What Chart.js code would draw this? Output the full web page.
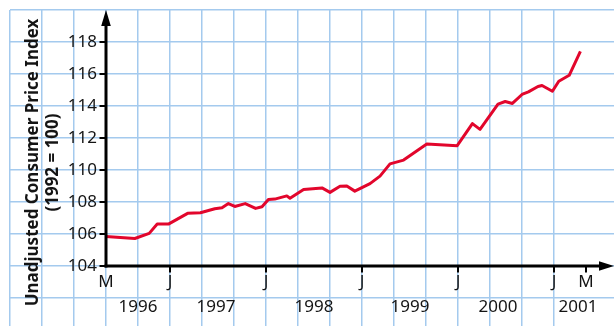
<!DOCTYPE html>
<html>
<head>
<meta charset="utf-8">
<script src="https://cdn.jsdelivr.net/npm/chart.js@4/dist/chart.umd.min.js"></script>
<style>
  html, body { margin: 0; padding: 0; background: #ffffff; }
  #wrap { width: 614px; height: 326px; position: relative; }
</style>
</head>
<body>
<div id="wrap"><canvas id="cpi" width="614" height="326"></canvas></div>
<script>
// Time is counted in months from May 1996 (0) to May 2001 (60).
const monthIndex = [
  0, 3.6, 5.4, 6.4, 7.8, 10.2, 11.8, 13.6, 14.5, 15.3, 16.1, 17.4, 18.7, 19.5,
  20.3, 21.1, 22.6, 23.0, 24.7, 27.0, 28.0, 29.25, 30.1, 31.1, 33.0, 34.25, 35.5,
  37.2, 40.1, 43.9, 45.8, 46.75, 49.0, 49.9, 50.8, 52.0, 52.8, 54.0, 54.5, 55.8,
  56.6, 57.9, 59.3
];
const cpiValues = [
  105.85, 105.72, 106.04, 106.62, 106.62, 107.29, 107.33, 107.58, 107.64, 107.9,
  107.72, 107.9, 107.6, 107.7, 108.15, 108.18, 108.38, 108.23, 108.78, 108.88,
  108.6, 108.98, 109.0, 108.68, 109.15, 109.62, 110.38, 110.62, 111.62, 111.52,
  112.9, 112.54, 114.12, 114.28, 114.16, 114.72, 114.88, 115.22, 115.28, 114.92,
  115.55, 115.92, 117.42
];

const yTickLabels = [104, 106, 108, 110, 112, 114, 116, 118];
const monthTickLabels = ['M', 'J', 'J', 'J', 'J', 'J', 'M'];
const monthTickPositions = [0, 8, 20, 32, 44, 56, 60];
const yearLabels = ['1996', '1997', '1998', '1999', '2000', '2001'];
const yearLabelPositions = [4, 13.75, 26, 38, 49, 59];

const titleLine1 = 'Unadjusted Consumer Price Index';
const titleLine2 = '(1992 = 100)';

const GRID_BLUE = '#a4caee';
const INK = '#141414';
const LABEL_FONT = '17px "Noto Sans", "DejaVu Sans", sans-serif';
const TITLE_FONT = 'bold 17px "Noto Sans", "DejaVu Sans", sans-serif';

// Keep grid lines on whole steps only (drop the extra min/max ticks).
function keepSteps(step) {
  return scale => {
    scale.ticks = scale.ticks.filter(t => Math.abs(t.value / step - Math.round(t.value / step)) < 1e-6);
  };
}

// Black axes with arrowheads, tick marks and all axis text.
const axesPlugin = {
  id: 'cpiAxes',
  afterDatasetsDraw(chart) {
    const { ctx, chartArea } = chart;
    const xs = chart.scales.x, ys = chart.scales.y;
    const x0 = xs.getPixelForValue(0);
    const y0 = ys.getPixelForValue(104);
    const yTop = ys.getPixelForValue(120);
    const xEnd = chartArea.right;

    ctx.save();
    ctx.strokeStyle = '#000';
    ctx.fillStyle = '#000';
    ctx.lineWidth = 3;
    ctx.lineCap = 'butt';

    // vertical axis
    ctx.beginPath();
    ctx.moveTo(x0, y0 + 1.5);
    ctx.lineTo(x0, yTop + 12);
    ctx.stroke();
    ctx.beginPath();
    ctx.moveTo(x0, yTop);
    ctx.lineTo(x0 - 4.8, yTop + 16);
    ctx.lineTo(x0 + 4.8, yTop + 16);
    ctx.closePath();
    ctx.fill();

    // horizontal axis
    ctx.beginPath();
    ctx.moveTo(x0 - 1.5, y0);
    ctx.lineTo(xEnd - 12, y0);
    ctx.stroke();
    ctx.beginPath();
    ctx.moveTo(xEnd, y0);
    ctx.lineTo(xEnd - 15, y0 - 4.8);
    ctx.lineTo(xEnd - 15, y0 + 4.8);
    ctx.closePath();
    ctx.fill();

    // tick marks
    ctx.lineWidth = 2;
    yTickLabels.forEach(v => {
      const py = ys.getPixelForValue(v);
      ctx.beginPath();
      ctx.moveTo(x0 - 6.5, py);
      ctx.lineTo(x0, py);
      ctx.stroke();
    });
    monthTickPositions.forEach(m => {
      if (m === 0) return;
      const px = xs.getPixelForValue(m);
      ctx.beginPath();
      ctx.moveTo(px, y0);
      ctx.lineTo(px, y0 + 6.5);
      ctx.stroke();
    });

    // tick labels
    ctx.fillStyle = INK;
    ctx.font = LABEL_FONT;
    ctx.textAlign = 'right';
    ctx.textBaseline = 'middle';
    yTickLabels.forEach(v => {
      ctx.fillText(String(v), x0 - 9, ys.getPixelForValue(v) + 0.5);
    });
    ctx.textAlign = 'center';
    ctx.textBaseline = 'alphabetic';
    monthTickLabels.forEach((t, i) => {
      ctx.fillText(t, xs.getPixelForValue(monthTickPositions[i]), y0 + 21);
    });
    yearLabels.forEach((t, i) => {
      ctx.fillText(t, xs.getPixelForValue(yearLabelPositions[i]), y0 + 46);
    });

    // rotated axis title
    ctx.font = TITLE_FONT;
    const midY = 162.5;
    ctx.save();
    ctx.translate(38, midY);
    ctx.rotate(-Math.PI / 2);
    ctx.fillText(titleLine1, 0, 0);
    ctx.restore();
    ctx.save();
    ctx.translate(58, midY);
    ctx.rotate(-Math.PI / 2);
    ctx.fillText(titleLine2, 0, 0);
    ctx.restore();

    ctx.restore();
  }
};

new Chart(document.getElementById('cpi'), {
  type: 'scatter',
  data: {
    datasets: [{
      data: monthIndex.map((m, i) => ({ x: m, y: cpiValues[i] })),
      showLine: true,
      borderColor: '#e2062c',
      borderWidth: 3,
      borderJoinStyle: 'round',
      borderCapStyle: 'butt',
      pointRadius: 0,
      pointHoverRadius: 0,
      tension: 0,
      fill: false,
      clip: false
    }]
  },
  options: {
    responsive: false,
    animation: false,
    devicePixelRatio: 1,
    events: [],
    layout: { padding: { left: 10, top: 10, right: 0, bottom: 0 } },
    plugins: { legend: { display: false }, tooltip: { enabled: false }, title: { display: false } },
    scales: {
      x: {
        type: 'linear',
        min: -12,
        max: 63.5,
        afterBuildTicks: keepSteps(4),
        ticks: { display: false, stepSize: 4 },
        grid: { color: GRID_BLUE, lineWidth: 1.5, drawTicks: false },
        border: { display: false }
      },
      y: {
        type: 'linear',
        min: 100.25,
        max: 120,
        afterBuildTicks: keepSteps(2),
        ticks: { display: false, stepSize: 2 },
        grid: { color: GRID_BLUE, lineWidth: 1.5, drawTicks: false },
        border: { display: false }
      }
    }
  },
  plugins: [axesPlugin]
});
</script>
</body>
</html>
